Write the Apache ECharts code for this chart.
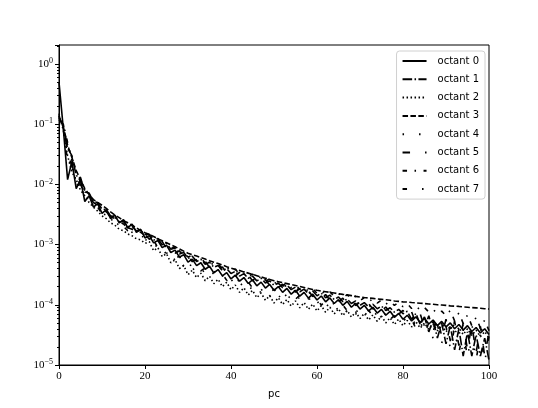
<!DOCTYPE html>
<html>
<head>
<meta charset="utf-8">
<script src="https://cdn.jsdelivr.net/npm/echarts@6/dist/echarts.min.js"></script>
<style>
html, body { margin: 0; padding: 0; background: #fff; }
#chart { width: 538px; height: 408px; }
</style>
</head>
<body>
<div id="chart"></div>
<script>
// principal component index 0..100
var pc = [];
for (var i = 0; i <= 100; i++) { pc.push(i); }

var seriesNames = ['octant 0', 'octant 1', 'octant 2', 'octant 3', 'octant 4', 'octant 5', 'octant 6', 'octant 7'];

var octant0 = [0.5, 0.085, 0.012, 0.024, 0.0085, 0.012, 0.0052, 0.0065, 0.0042, 0.0048,
  0.0033, 0.0038, 0.0027, 0.0031, 0.0023, 0.0026, 0.0019, 0.0022, 0.0016, 0.0018,
  1.29e-3, 1.41e-3, 1.07e-3, 1.17e-3, 8.9e-4, 9.8e-4, 7.4e-4, 8.1e-4, 6.2e-4, 6.8e-4,
  5.1e-4, 5.75e-4, 4.47e-4, 5.0e-4, 3.9e-4, 4.37e-4, 3.39e-4, 3.85e-4, 3.02e-4, 3.43e-4,
  2.69e-4, 3.1e-4, 2.47e-4, 2.84e-4, 2.26e-4, 2.6e-4, 2.07e-4, 2.38e-4, 1.9e-4, 2.18e-4,
  1.74e-4, 2.01e-4, 1.61e-4, 1.87e-4, 1.5e-4, 1.74e-4, 1.39e-4, 1.61e-4, 1.29e-4, 1.5e-4,
  1.2e-4, 1.4e-4, 1.12e-4, 1.3e-4, 1.05e-4, 1.22e-4, 9.8e-5, 1.14e-4, 9.1e-5, 1.06e-4,
  8.5e-5, 9.8e-5, 7.9e-5, 9.1e-5, 7.3e-5, 8.4e-5, 6.7e-5, 7.8e-5, 6.2e-5, 7.2e-5,
  5.75e-5, 6.7e-5, 5.4e-5, 6.3e-5, 5.1e-5, 5.96e-5, 4.8e-5, 5.6e-5, 4.5e-5, 5.3e-5,
  4.3e-5, 5.0e-5, 4.0e-5, 4.7e-5, 3.8e-5, 4.5e-5, 3.6e-5, 4.2e-5, 3.4e-5, 4.0e-5, 3.2e-5];

var octant1 = [0.12, 0.1, 0.04, 0.03, 0.014, 0.013, 0.0075, 0.0072, 0.0052, 0.005,
  0.0039, 0.0038, 0.003, 0.0029, 0.0024, 0.0024, 0.002, 0.002, 0.0017, 0.0017,
  1.48e-3, 1.49e-3, 1.19e-3, 1.25e-3, 9.95e-4, 1.05e-3, 8.35e-4, 8.8e-4, 7.0e-4, 7.4e-4,
  5.9e-4, 6.4e-4, 5.25e-4, 5.7e-4, 4.7e-4, 5.1e-4, 4.2e-4, 4.5e-4, 3.7e-4, 4.0e-4,
  3.3e-4, 3.6e-4, 3.0e-4, 3.3e-4, 2.75e-4, 3.0e-4, 2.5e-4, 2.75e-4, 2.3e-4, 2.5e-4,
  2.1e-4, 2.3e-4, 1.93e-4, 2.13e-4, 1.79e-4, 1.97e-4, 1.65e-4, 1.82e-4, 1.53e-4, 1.69e-4,
  1.41e-4, 1.56e-4, 1.31e-4, 1.45e-4, 1.22e-4, 1.35e-4, 1.13e-4, 1.25e-4, 1.05e-4, 1.16e-4,
  9.8e-5, 1.09e-4, 9.2e-5, 1.02e-4, 8.6e-5, 9.5e-5, 8.05e-5, 8.95e-5, 7.55e-5, 8.4e-5,
  7.1e-5, 7.8e-5, 5.75e-5, 7.2e-5, 4.7e-5, 6.3e-5, 3.55e-5, 5.6e-5, 2.8e-5, 5.0e-5,
  2.24e-5, 4.5e-5, 1.78e-5, 4.0e-5, 1.41e-5, 3.55e-5, 1.41e-5, 3.16e-5, 1.41e-5, 2.8e-5, 1.2e-5];

var octant2 = [0.14, 0.08, 0.03, 0.016, 0.012, 0.008, 0.0065, 0.005, 0.0042, 0.0036,
  0.003, 0.0027, 0.0023, 0.0021, 0.0018, 0.0017, 0.0015, 0.0014, 0.00125, 0.0012,
  1.05e-3, 1.12e-3, 7.9e-4, 8.9e-4, 6.3e-4, 7.1e-4, 5.0e-4, 5.6e-4, 4.0e-4, 4.5e-4,
  3.16e-4, 3.76e-4, 2.82e-4, 3.35e-4, 2.51e-4, 2.99e-4, 2.24e-4, 2.66e-4, 2.0e-4, 2.37e-4,
  1.78e-4, 2.13e-4, 1.61e-4, 1.92e-4, 1.45e-4, 1.74e-4, 1.31e-4, 1.57e-4, 1.19e-4, 1.42e-4,
  1.07e-4, 1.31e-4, 1.01e-4, 1.23e-4, 9.5e-5, 1.16e-4, 8.95e-5, 1.09e-4, 8.4e-5, 1.03e-4,
  7.9e-5, 9.7e-5, 7.5e-5, 9.1e-5, 7.05e-5, 8.6e-5, 6.6e-5, 8.1e-5, 6.25e-5, 7.6e-5,
  5.9e-5, 7.2e-5, 5.6e-5, 6.8e-5, 5.3e-5, 6.5e-5, 5.0e-5, 6.1e-5, 4.7e-5, 5.8e-5,
  4.5e-5, 5.5e-5, 4.3e-5, 5.25e-5, 4.1e-5, 5.0e-5, 3.9e-5, 4.8e-5, 3.7e-5, 4.6e-5,
  3.55e-5, 4.4e-5, 3.4e-5, 4.2e-5, 3.2e-5, 4.0e-5, 3.1e-5, 3.8e-5, 2.95e-5, 3.6e-5, 2.8e-5];

var octant3 = [0.13, 0.09, 0.045, 0.028, 0.017, 0.012, 0.0085, 0.0068, 0.0056, 0.005,
  0.0045, 0.004, 0.0035, 0.0031, 0.0028, 0.0025, 0.0023, 0.0021, 0.0019, 0.0017,
  1.58e-3, 1.47e-3, 1.36e-3, 1.25e-3, 1.16e-3, 1.07e-3, 9.9e-4, 9.2e-4, 8.5e-4, 7.8e-4,
  7.2e-4, 6.8e-4, 6.45e-4, 6.1e-4, 5.75e-4, 5.4e-4, 5.1e-4, 4.85e-4, 4.57e-4, 4.3e-4,
  4.07e-4, 3.88e-4, 3.7e-4, 3.52e-4, 3.36e-4, 3.2e-4, 3.05e-4, 2.9e-4, 2.77e-4, 2.64e-4,
  2.51e-4, 2.42e-4, 2.33e-4, 2.25e-4, 2.17e-4, 2.09e-4, 2.01e-4, 1.94e-4, 1.87e-4, 1.8e-4,
  1.74e-4, 1.69e-4, 1.65e-4, 1.61e-4, 1.57e-4, 1.53e-4, 1.49e-4, 1.46e-4, 1.42e-4, 1.38e-4,
  1.35e-4, 1.32e-4, 1.3e-4, 1.28e-4, 1.25e-4, 1.23e-4, 1.21e-4, 1.19e-4, 1.16e-4, 1.14e-4,
  1.12e-4, 1.11e-4, 1.09e-4, 1.08e-4, 1.06e-4, 1.05e-4, 1.03e-4, 1.02e-4, 1.0e-4, 9.9e-5,
  9.8e-5, 9.6e-5, 9.5e-5, 9.4e-5, 9.2e-5, 9.1e-5, 9.0e-5, 8.9e-5, 8.75e-5, 8.6e-5, 8.5e-5];

var octant4 = [0.15, 0.085, 0.028, 0.02, 0.011, 0.0095, 0.0062, 0.0058, 0.0044, 0.0041,
  0.0033, 0.0031, 0.0026, 0.0024, 0.0021, 0.0019, 0.0017, 0.0016, 0.0014, 0.00135,
  1.26e-3, 1.01e-3, 1.15e-3, 8.2e-4, 9.3e-4, 6.7e-4, 7.6e-4, 5.4e-4, 6.2e-4, 4.4e-4,
  5.0e-4, 3.74e-4, 4.4e-4, 3.3e-4, 3.9e-4, 2.9e-4, 3.45e-4, 2.58e-4, 3.05e-4, 2.28e-4,
  2.7e-4, 2.04e-4, 2.45e-4, 1.86e-4, 2.24e-4, 1.7e-4, 2.04e-4, 1.55e-4, 1.86e-4, 1.41e-4,
  1.7e-4, 1.3e-4, 1.58e-4, 1.21e-4, 1.47e-4, 1.12e-4, 1.36e-4, 1.04e-4, 1.26e-4, 9.7e-5,
  1.17e-4, 9.0e-5, 1.1e-4, 8.5e-5, 1.03e-4, 7.9e-5, 9.7e-5, 7.45e-5, 9.1e-5, 7.0e-5,
  8.5e-5, 6.6e-5, 8.0e-5, 6.2e-5, 7.55e-5, 5.8e-5, 7.1e-5, 5.5e-5, 6.7e-5, 5.2e-5,
  6.3e-5, 4.9e-5, 6.0e-5, 4.7e-5, 5.75e-5, 4.5e-5, 5.5e-5, 4.3e-5, 5.25e-5, 4.1e-5,
  5.0e-5, 3.9e-5, 4.8e-5, 3.7e-5, 4.6e-5, 3.55e-5, 4.4e-5, 3.4e-5, 4.2e-5, 3.2e-5, 4.0e-5];

var octant5 = [0.13, 0.095, 0.035, 0.02, 0.013, 0.01, 0.0072, 0.0063, 0.005, 0.0045,
  0.0037, 0.0034, 0.0029, 0.0027, 0.0023, 0.0022, 0.0019, 0.0018, 0.0016, 0.0015,
  1.48e-3, 1.23e-3, 1.36e-3, 1.03e-3, 1.13e-3, 8.6e-4, 9.5e-4, 7.2e-4, 7.9e-4, 6.0e-4,
  6.6e-4, 5.2e-4, 5.9e-4, 4.65e-4, 5.3e-4, 4.17e-4, 4.74e-4, 3.73e-4, 4.25e-4, 3.34e-4,
  3.8e-4, 3.0e-4, 3.47e-4, 2.75e-4, 3.16e-4, 2.5e-4, 2.9e-4, 2.3e-4, 2.63e-4, 2.1e-4,
  2.4e-4, 1.91e-4, 2.2e-4, 1.76e-4, 2.03e-4, 1.62e-4, 1.87e-4, 1.49e-4, 1.72e-4, 1.37e-4,
  1.58e-4, 1.27e-4, 1.48e-4, 1.19e-4, 1.38e-4, 1.11e-4, 1.29e-4, 1.04e-4, 1.2e-4, 9.7e-5,
  1.12e-4, 9.0e-5, 1.05e-4, 8.5e-5, 9.9e-5, 7.9e-5, 9.2e-5, 7.45e-5, 8.7e-5, 7.0e-5,
  8.1e-5, 6.0e-5, 7.6e-5, 5.0e-5, 7.1e-5, 4.2e-5, 6.6e-5, 3.55e-5, 6.2e-5, 3.0e-5,
  5.75e-5, 2.5e-5, 5.4e-5, 2.1e-5, 5.0e-5, 1.78e-5, 4.7e-5, 1.58e-5, 4.4e-5, 1.41e-5, 3.55e-5];

var octant6 = [0.12, 0.1, 0.05, 0.025, 0.016, 0.011, 0.008, 0.0066, 0.0053, 0.0046,
  0.0039, 0.0035, 0.003, 0.0028, 0.0024, 0.0022, 0.0019, 0.0018, 0.0016, 0.0016,
  1.42e-3, 1.49e-3, 1.2e-3, 1.26e-3, 1.01e-3, 1.07e-3, 8.6e-4, 9.1e-4, 7.3e-4, 7.7e-4,
  6.2e-4, 6.7e-4, 5.5e-4, 6.0e-4, 4.94e-4, 5.4e-4, 4.43e-4, 4.8e-4, 3.96e-4, 4.3e-4,
  3.55e-4, 3.9e-4, 3.24e-4, 3.55e-4, 2.95e-4, 3.24e-4, 2.7e-4, 2.95e-4, 2.45e-4, 2.7e-4,
  2.24e-4, 2.48e-4, 2.08e-4, 2.3e-4, 1.93e-4, 2.14e-4, 1.8e-4, 1.99e-4, 1.67e-4, 1.85e-4,
  1.55e-4, 1.73e-4, 1.47e-4, 1.64e-4, 1.39e-4, 1.55e-4, 1.31e-4, 1.47e-4, 1.24e-4, 1.39e-4,
  1.17e-4, 1.32e-4, 1.12e-4, 1.26e-4, 1.07e-4, 1.2e-4, 1.02e-4, 1.15e-4, 9.8e-5, 1.1e-4,
  9.3e-5, 1.04e-4, 8.7e-5, 9.7e-5, 8.1e-5, 9.0e-5, 7.6e-5, 8.4e-5, 7.1e-5, 7.85e-5,
  6.6e-5, 8.1e-5, 5.4e-5, 7.4e-5, 4.9e-5, 6.8e-5, 4.5e-5, 6.2e-5, 4.1e-5, 5.6e-5, 3.7e-5];

var octant7 = [0.14, 0.08, 0.025, 0.019, 0.01, 0.0098, 0.006, 0.0059, 0.0043, 0.0042,
  0.0032, 0.0032, 0.0026, 0.0025, 0.0021, 0.002, 0.0017, 0.0016, 0.0015, 0.0014,
  1.3e-3, 1.09e-3, 1.18e-3, 8.9e-4, 9.6e-4, 7.2e-4, 7.9e-4, 5.9e-4, 6.4e-4, 4.83e-4,
  5.25e-4, 4.1e-4, 4.66e-4, 3.65e-4, 4.13e-4, 3.24e-4, 3.66e-4, 2.87e-4, 3.25e-4, 2.55e-4,
  2.88e-4, 2.3e-4, 2.63e-4, 2.1e-4, 2.4e-4, 1.9e-4, 2.2e-4, 1.74e-4, 2.0e-4, 1.58e-4,
  1.82e-4, 1.46e-4, 1.68e-4, 1.35e-4, 1.56e-4, 1.24e-4, 1.44e-4, 1.15e-4, 1.33e-4, 1.06e-4,
  1.23e-4, 9.9e-5, 1.15e-4, 9.2e-5, 1.07e-4, 8.6e-5, 1.0e-4, 8.0e-5, 9.3e-5, 7.5e-5,
  8.7e-5, 7.0e-5, 8.1e-5, 6.5e-5, 7.6e-5, 6.1e-5, 7.1e-5, 5.7e-5, 6.6e-5, 5.3e-5,
  6.2e-5, 4.7e-5, 5.75e-5, 4.0e-5, 5.4e-5, 3.3e-5, 5.0e-5, 2.75e-5, 4.7e-5, 2.3e-5,
  4.4e-5, 1.9e-5, 4.1e-5, 1.58e-5, 3.8e-5, 1.32e-5, 3.55e-5, 1.2e-5, 3.3e-5, 1.12e-5, 3.0e-5];

var octantData = [octant0, octant1, octant2, octant3, octant4, octant5, octant6, octant7];

// matplotlib line styles (scaled by line width 1.5)
var dashStyles = ['solid', [9.6, 2.4, 1.5, 2.4], [1.5, 2.5], [5.5, 2.4], [1.5, 15], [7.5, 15], [4.5, 7.5, 1.5, 7.5], [4.5, 15, 1.5, 15]];

var myChart = echarts.init(document.getElementById('chart'), null, { renderer: 'canvas' });

var series = [];
for (var s = 0; s < seriesNames.length; s++) {
  var pts = [];
  for (var k = 0; k < pc.length; k++) pts.push([pc[k], octantData[s][k]]);
  series.push({
    name: seriesNames[s],
    type: 'line',
    data: pts,
    symbol: 'none',
    color: '#000',
    lineStyle: { color: '#000', width: 1.6, type: dashStyles[s], cap: 'butt' },
    z: 10 - s
  });
}

function logLabel(v) {
  var lg = Math.log(v) / Math.LN10;
  var e = Math.round(lg);
  if (Math.abs(lg - e) > 1e-6) return '';
  return '10{s|' + (e < 0 ? '\u2212' + (-e) : e) + '}';
}

var option = {
  animation: false,
  backgroundColor: '#fff',
  grid: { left: 59, right: 49, top: 45, bottom: 43, show: true, borderColor: '#000', borderWidth: 1, backgroundColor: 'transparent' },
  legend: {
    orient: 'vertical',
    right: 53,
    top: 51,
    padding: [5, 6, 5, 5],
    itemWidth: 24,
    itemHeight: 10,
    itemGap: 8.3,
    backgroundColor: 'rgba(255,255,255,0.8)',
    borderColor: '#d0d0d0',
    borderWidth: 1,
    borderRadius: 3,
    itemStyle: { color: 'rgba(0,0,0,0)', borderWidth: 0, opacity: 0 },
    textStyle: { fontFamily: 'DejaVu Sans', fontSize: 10, color: '#000', padding: [0, 0, 0, 6] },
    data: seriesNames
  },
  xAxis: {
    type: 'value',
    min: 0,
    max: 100,
    interval: 20,
    name: 'pc',
    nameLocation: 'middle',
    nameGap: 24,
    nameTextStyle: { fontFamily: 'DejaVu Sans', fontSize: 10, color: '#000' },
    axisLine: { lineStyle: { color: '#000', width: 1 } },
    axisTick: { length: 4, lineStyle: { color: '#000' } },
    axisLabel: { fontFamily: 'Liberation Serif', fontSize: 11, color: '#000', margin: 6 },
    splitLine: { show: false }
  },
  yAxis: {
    type: 'log',
    logBase: 10,
    min: 1e-5,
    max: 2.07,
    axisLine: { show: true, lineStyle: { color: '#000', width: 1 } },
    axisTick: { length: 4, lineStyle: { color: '#000' } },
    minorTick: { show: true, splitNumber: 9, length: 2, lineStyle: { color: '#000' } },
    axisLabel: {
      formatter: logLabel,
      fontFamily: 'Liberation Serif',
      fontSize: 11,
      color: '#000',
      margin: 6,
      rich: { s: { fontFamily: 'Liberation Serif', fontSize: 8, verticalAlign: 'top', padding: [0, 0, 6, 0] } }
    },
    splitLine: { show: false },
    minorSplitLine: { show: false }
  },
  series: series
};

myChart.setOption(option);
</script>
</body>
</html>
